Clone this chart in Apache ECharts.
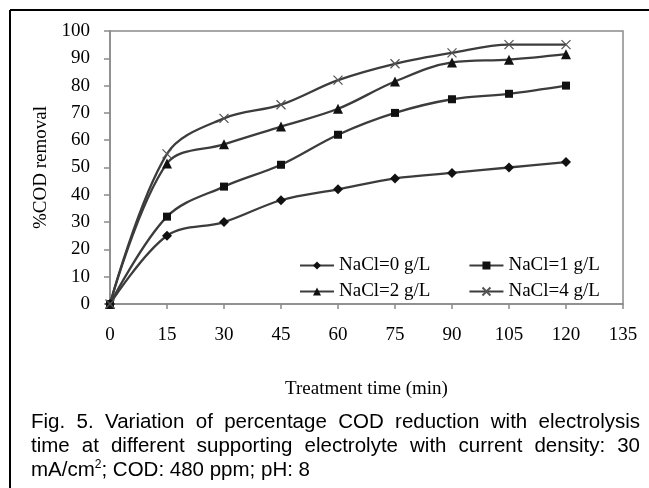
<html>
<head>
    <meta charset="utf-8">
    <title>COD removal</title>
    <script src="https://cdn.jsdelivr.net/npm/echarts@6/dist/echarts.min.js"></script>
    <style>
        body { margin: 0; background: #fff; }
        #wrap { position: relative; width: 649px; height: 488px; overflow: hidden; }
        #main { position: absolute; left: 0; top: 0; width: 649px; height: 488px; }
        #caption {
            position: absolute; left: 31px; top: 409px; width: 609px;
            font-family: "Liberation Sans", Arial, sans-serif; font-size: 20.5px;
            line-height: 24px; color: #000;
        }
        #caption .j { text-align: justify; text-align-last: justify; white-space: nowrap; }
        #caption sup { font-size: 12px; line-height: 0; }
    </style>
</head>
<body>
<div id="wrap">
    <div id="main"></div>
    <div id="caption">
        <div class="j">Fig. 5. Variation of percentage COD reduction with electrolysis</div>
        <div class="j">time at different supporting electrolyte with current density: 30</div>
        <div>mA/cm<sup>2</sup>; COD: 480 ppm; pH: 8</div>
    </div>
</div>
<script type="text/javascript">
    // treatment time (min)
    var times = [0, 15, 30, 45, 60, 75, 90, 105, 120];
    // %COD removal per NaCl dose
    var nacl0 = [0, 25, 30, 38, 42, 46, 48, 50, 52];
    var nacl1 = [0, 32, 43, 51, 62, 70, 75, 77, 80];
    var nacl2 = [0, 51.5, 58.5, 65, 71.5, 81.5, 88.5, 89.5, 91.5];
    var nacl4 = [0, 55, 68, 73, 82, 88, 92, 95, 95];
    var names = ['NaCl=0 g/L', 'NaCl=1 g/L', 'NaCl=2 g/L', 'NaCl=4 g/L'];

    function pairs(ys) {
        var out = [];
        for (var i = 0; i < times.length; i++) out.push([times[i], ys[i]]);
        return out;
    }

    var serif = '"Liberation Serif", "Times New Roman", serif';
    var lineCol = '#3c3c3c';
    var crossPath = 'path://M0,0L10,10M10,0L0,10';

    function mk(name, ys, symbol, size, extra) {
        var s = {
            name: name,
            type: 'line',
            smooth: 0.35,
            data: pairs(ys),
            symbol: symbol,
            symbolSize: size,
            showAllSymbol: true,
            lineStyle: { color: lineCol, width: 2.3 },
            itemStyle: { color: '#111' },
            z: 3
        };
        if (extra) s.itemStyle = extra;
        return s;
    }

    var myChart = echarts.init(document.getElementById('main'));
    var option = {
        animation: false,
        textStyle: { fontFamily: serif },
        grid: {
            left: 110, right: 26, top: 31, bottom: 184,
            show: true, borderColor: '#8a8a8a', borderWidth: 1.5
        },
        legend: [{
            data: [names[0], names[1]],
            left: 299, top: 256, padding: 0,
            itemWidth: 34, itemHeight: 10, itemGap: 38,
            textStyle: { fontFamily: serif, fontSize: 19, color: '#000' }
        }, {
            data: [names[2], names[3]],
            left: 299, top: 282, padding: 0,
            itemWidth: 34, itemHeight: 10, itemGap: 38,
            textStyle: { fontFamily: serif, fontSize: 19, color: '#000' }
        }],
        xAxis: {
            type: 'value', min: 0, max: 135, interval: 15,
            name: 'Treatment time (min)', nameLocation: 'middle', nameGap: 76,
            nameTextStyle: { fontFamily: serif, fontSize: 19, color: '#000' },
            axisLine: { lineStyle: { color: '#8a8a8a', width: 1.5 } },
            axisTick: { show: true, length: 5, lineStyle: { color: '#8a8a8a', width: 1.5 } },
            axisLabel: { margin: 22, fontFamily: serif, fontSize: 19, color: '#000' },
            splitLine: { show: false }
        },
        yAxis: {
            type: 'value', min: 0, max: 100, interval: 10,
            name: '%COD removal', nameLocation: 'middle', nameGap: 57, nameRotate: 90,
            nameTextStyle: { fontFamily: serif, fontSize: 19, color: '#000' },
            axisLine: { show: true, lineStyle: { color: '#8a8a8a', width: 1.5 } },
            axisTick: { show: true, length: 6, lineStyle: { color: '#8a8a8a', width: 1.5 } },
            axisLabel: { margin: 20, fontFamily: serif, fontSize: 19, color: '#000' },
            splitLine: { show: false }
        },
        graphic: [
            { type: 'line', shape: { x1: 10, y1: 10, x2: 649, y2: 10 }, style: { stroke: '#000', lineWidth: 2 } },
            { type: 'line', shape: { x1: 10, y1: 10, x2: 10, y2: 488 }, style: { stroke: '#000', lineWidth: 2 } }
        ],
        series: [
            mk(names[0], nacl0, 'diamond', 10),
            mk(names[1], nacl1, 'rect', 8),
            mk(names[2], nacl2, 'triangle', 10),
            mk(names[3], nacl4, crossPath, 9, { color: 'rgba(0,0,0,0)', borderColor: '#555', borderWidth: 1.3 })
        ]
    };
    myChart.setOption(option);
</script>
</body>
</html>
